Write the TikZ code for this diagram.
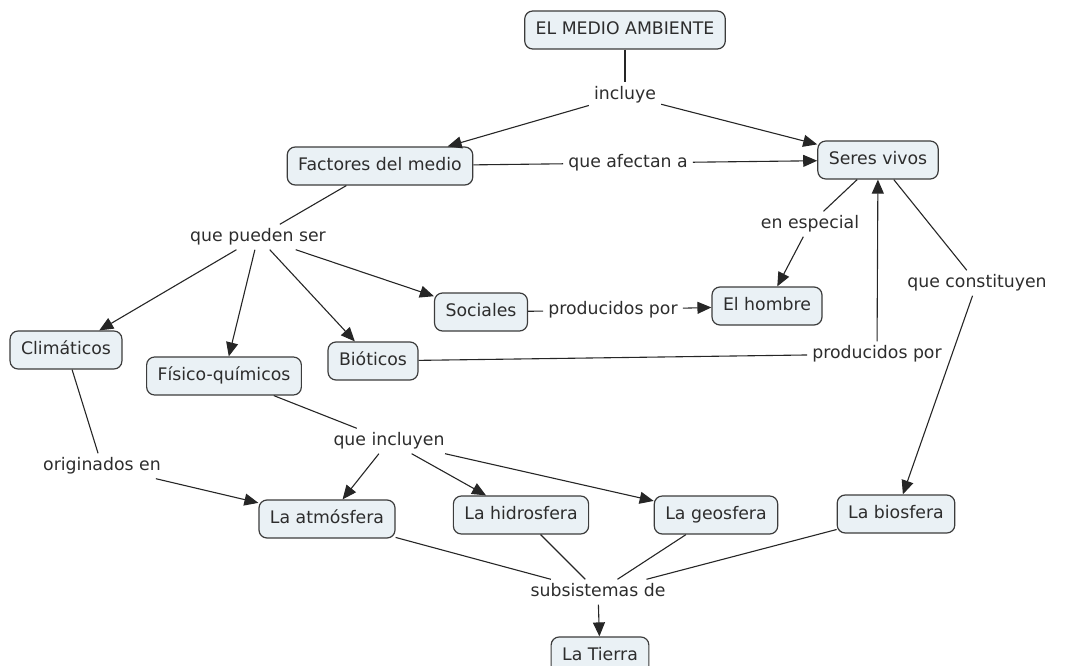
\documentclass[tikz,border=0pt]{standalone}
\usepackage{fontspec}
\setmainfont{DejaVu Sans}
\usetikzlibrary{arrows.meta}
\definecolor{boxfill}{RGB}{234,241,245}
\definecolor{boxline}{RGB}{60,60,60}
\definecolor{txt}{RGB}{45,45,45}
\tikzset{
  concept/.style={draw=boxline, fill=boxfill, rounded corners=8pt, line width=1.2pt,
    text=txt, font=\fontsize{17.3}{20}\selectfont, inner xsep=11pt, inner ysep=0pt,
    minimum height=38pt, text height=13pt, text depth=4pt},
  lbl/.style={text=txt, font=\fontsize{17.3}{20}\selectfont, inner xsep=5pt, inner ysep=4pt,
    text height=13pt, text depth=4pt},
  link/.style={draw=black!85, line width=1.1pt},
  arr/.style={link, -{Triangle[length=14pt,width=12pt]}}
}
\begin{document}
\begin{tikzpicture}[x=1pt,y=-1pt]
\useasboundingbox (0,0) rectangle (1065,666);
\clip (0,0) rectangle (1065,666);
% concepts
\node[concept] (ema) at (625,30) {EL MEDIO AMBIENTE};
\node[concept] (fac) at (380,166) {Factores del medio};
\node[concept] (ser) at (878,160) {Seres vivos};
\node[concept] (soc) at (481,312) {Sociales};
\node[concept] (hom) at (767,306) {El hombre};
\node[concept] (cli) at (66,350) {Climáticos};
\node[concept] (fis) at (224,376) {Físico-químicos};
\node[concept] (bio) at (373,361) {Bióticos};
\node[concept] (atm) at (327,519) {La atmósfera};
\node[concept] (hid) at (521,515) {La hidrosfera};
\node[concept] (geo) at (716,515) {La geosfera};
\node[concept] (bsf) at (896,514) {La biosfera};
\node[concept] (tie) at (600,656) {La Tierra};
% labels
\node[lbl] (inc) at (625,95) {incluye};
\node[lbl] (afe) at (628,163) {que afectan a};
\node[lbl] (pue) at (258,237) {que pueden ser};
\node[lbl] (esp) at (810,224) {en especial};
\node[lbl] (pro1) at (613,310) {producidos por};
\node[lbl] (con) at (977,283) {que constituyen};
\node[lbl] (pro2) at (877,354) {producidos por};
\node[lbl] (qin) at (389,441) {que incluyen};
\node[lbl] (ori) at (102,466) {originados en};
\node[lbl] (sub) at (598,592) {subsistemas de};
% connectors
\draw[link] (ema) -- (inc);
\draw[arr] (inc) -- (fac);
\draw[arr] (inc) -- (ser);
\draw[link] (fac) -- (afe);
\draw[arr] (afe) -- (ser);
\draw[link] (fac) -- (pue);
\draw[arr] (pue) -- (cli);
\draw[arr] (pue) -- (fis);
\draw[arr] (pue) -- (bio);
\draw[arr] (pue) -- (soc);
\draw[link] (ser) -- (esp);
\draw[arr] (esp) -- (hom);
\draw[link] (soc) -- (pro1);
\draw[arr] (pro1) -- (hom);
\draw[link] (bio) -- (pro2);
\draw[arr] (pro2) -- (ser);
\draw[link] (ser) -- (con);
\draw[arr] (con) -- (bsf);
\draw[link] (cli) -- (ori);
\draw[arr] (ori) -- (atm);
\draw[link] (fis) -- (qin);
\draw[arr] (qin) -- (atm);
\draw[arr] (qin) -- (hid);
\draw[arr] (qin) -- (geo);
\draw[link] (atm) -- (sub);
\draw[link] (hid) -- (sub);
\draw[link] (geo) -- (sub);
\draw[link] (bsf) -- (sub);
\draw[arr] (sub) -- (tie);
\end{tikzpicture}
\end{document}
